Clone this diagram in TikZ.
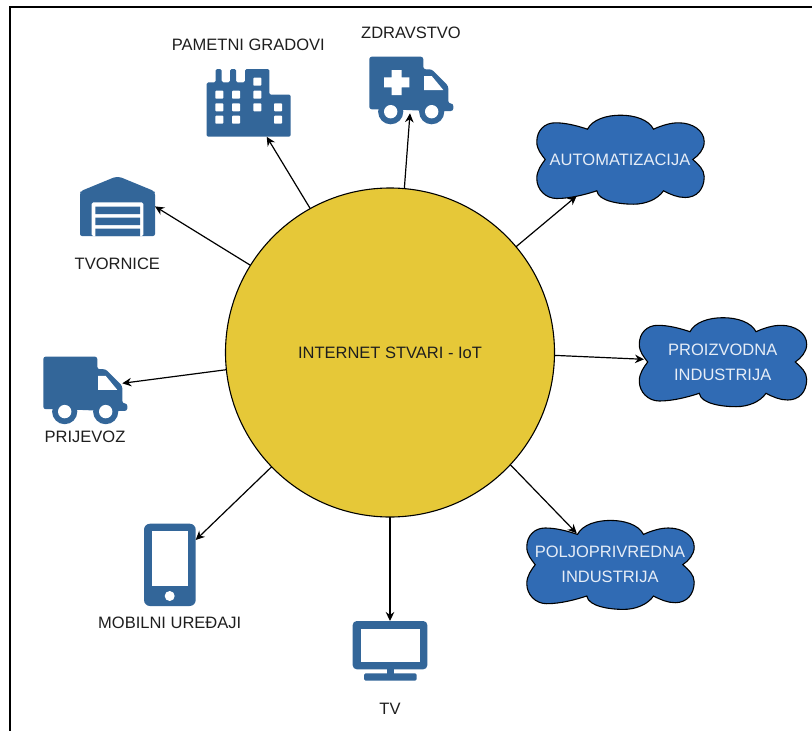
\documentclass[tikz,border=0pt]{standalone}
\usepackage{fontspec}
\setmainfont{Liberation Sans}
\usetikzlibrary{arrows.meta}
\definecolor{iconblue}{HTML}{336699}
\definecolor{cloudblue}{HTML}{306BB4}
\definecolor{hubyellow}{HTML}{E6C838}
\definecolor{cloudtext}{HTML}{E6EDF7}
\definecolor{labelink}{HTML}{1E1E1E}
\tikzset{
  label text/.style={font=\fontsize{16.5}{18}\selectfont,text=labelink,inner sep=0pt,align=center},
  cloud text/.style={font=\fontsize{16.5}{25}\selectfont,text=cloudtext,inner sep=0pt,align=center},
  link/.style={draw=black,line width=1.2pt,-{Stealth[length=9pt,width=8.5pt]}},
  icon/.style={fill=iconblue,draw=none},
  hole/.style={fill=white,draw=none},
  frame node/.style={draw=none,fill=none,inner sep=0pt,outer sep=0pt,rectangle},
  blob/.pic={
    \path[fill=cloudblue,draw=black,line width=1.1pt]
      (-33,-30.3) .. controls (-28,-40) and (-14,-44.3) .. (0,-44.3)
      .. controls (14,-44.3) and (28,-40) .. (33,-30.3)
      .. controls (41,-34) and (50,-36.7) .. (58,-36.7)
      .. controls (72,-36.7) and (83.7,-29) .. (83.7,-17.7)
      .. controls (83.7,-10) and (78,-4) .. (72.3,0)
      .. controls (78,5) and (83.7,10) .. (83.7,17.3)
      .. controls (83.7,30) and (76,38) .. (64.7,38)
      .. controls (57,38) and (50,35) .. (43,31.3)
      .. controls (37,40) and (25,44.7) .. (13,44.7)
      .. controls (0,44.7) and (-22,42) .. (-23.7,31.3)
      .. controls (-35,35) and (-50,39) .. (-63.7,39)
      .. controls (-75,39) and (-83.7,30) .. (-83.7,19)
      .. controls (-83.7,11) and (-79,5) .. (-75.3,0)
      .. controls (-79,-5) and (-83.7,-10) .. (-83.7,-17.7)
      .. controls (-83.7,-29) and (-76,-36.7) .. (-65.3,-36.7)
      .. controls (-55,-36.7) and (-44,-34) .. (-33,-30.3) -- cycle;
  },
  van/.pic={
    \path[icon,rounded corners=2.5pt]
      (369.3,56.7) -- (423.3,56.7) -- (423.3,69.3) -- (431.7,69.3) -- (448.3,86)
      -- (448.3,103.5) -- (453.3,103.5) -- (453.3,111) -- (430,111) -- (390,109.3) -- (369.3,109.3) -- cycle;
    \path[icon] (390.7,111.7) circle (12.6) (431.7,111.7) circle (12.6);
    \path[hole] (390.7,111.7) circle (6.7) (431.7,111.7) circle (6.7);
    \path[hole] (424,76) -- (431.7,76) -- (443.3,90) -- (424,90) -- cycle;
  }
}
\begin{document}
\begin{tikzpicture}[x=1pt,y=-1pt]
\useasboundingbox (0,0) rectangle (812,731);
\fill[white] (0,0) rectangle (812,731);
\draw[line width=2pt,black] (10,731) -- (10,7) -- (812,7);

% hub
\node[circle,draw=black,line width=1.1pt,fill=hubyellow,minimum size=329pt,inner sep=0pt,outer sep=0pt] (iot) at (390,352.5) {};
\node[label text] (iottext) at (390,352.5) {INTERNET STVARI - IoT};

% clouds
\pic at (620.5,159.5) {blob};
\pic at (723,362) {blob};
\pic at (610.5,564.7) {blob};
\node[cloud text] (auto) at (620,160) {AUTOMATIZACIJA};
\node[cloud text] (proiz) at (722.7,362.5) {PROIZVODNA\\INDUSTRIJA};
\node[cloud text] (poljo) at (610,564.8) {POLJOPRIVREDNA\\INDUSTRIJA};
\coordinate (autoin) at (576.7,196);
\coordinate (proizin) at (644,359.3);
\coordinate (poljoin) at (576.7,533.3);

% factory icon
\path[icon,rounded corners=2pt] (80,236) -- (80,193) -- (81,191) -- (115,177) -- (120,177) -- (154,191) -- (155,193) -- (155,236) -- cycle;
\path[hole,rounded corners=1.5pt] (91.7,236) -- (91.7,202.3) -- (143.3,202.3) -- (143.3,236) -- cycle;
\path[icon] (95.3,206.7) rectangle (140,214) (95.3,217.7) rectangle (140,225) (95.3,228.7) rectangle (140,236);
\node[frame node,minimum width=75pt,minimum height=59.3pt] (tvornice) at (117.5,206.4) {};
\node[label text] (tvornicetext) at (117.3,264) {TVORNICE};

% city icon
\path[icon,rounded corners=1.5pt] (206.7,136.7) -- (206.7,82.3) -- (215.7,82.3) -- (215.7,69) -- (221.7,69) -- (221.7,82.3) -- (230,82.3) -- (230,69) -- (236,69) -- (236,82.3) -- (245,82.3) -- (245,69) -- (269.3,69) -- (269.3,94.7) -- (290.7,94.7) -- (290.7,136.7) -- cycle;
\foreach \wx/\wy in {215.3/90.7,215.3/103.3,215.3/115.7,232/90.7,232/103.3,232/115.7,253.3/77.7,253.3/90.7,253.3/103.3,274/103.3,274/115.7}
  \path[hole,rounded corners=.8pt] (\wx,\wy) rectangle ++(8,8);
\node[frame node,minimum width=84pt,minimum height=67.7pt] (gradovi) at (248.7,102.9) {};
\node[label text] (gradovitext) at (248.3,45) {PAMETNI GRADOVI};

% ambulance icon
\pic {van};
\path[hole] (391.7,70) rectangle (401.7,95) (384,77.3) rectangle (409.4,87.3);
\coordinate (zdravin) at (410,113.3);
\node[label text] (zdravtext) at (411,33) {ZDRAVSTVO};

% truck icon
\begin{scope}[shift={(-326,299.9)},yscale=.972]
\pic {van};
\end{scope}
\coordinate (prijin) at (122.3,383.3);
\node[label text] (prijtext) at (85,437.3) {PRIJEVOZ};

% phone icon
\path[icon,rounded corners=6pt] (144,523.7) rectangle (195.7,606);
\path[hole] (151.7,531) rectangle (187.7,585.7);
\path[hole] (169.7,596) circle (5);
\coordinate (mobilniin) at (195.7,540);
\node[label text] (mobilnitext) at (169.7,622.7) {MOBILNI UREĐAJI};

% tv icon
\path[icon,rounded corners=4pt] (352.7,621) rectangle (427.3,669.3);
\path[hole] (360.7,628.7) rectangle (420,662);
\path[icon] (386.7,669) rectangle (394,674);
\path[icon,rounded corners=1.5pt] (364,673.3) rectangle (416.7,680.7);
\node[frame node,minimum width=74.6pt,minimum height=59.7pt] (tv) at (390,650.85) {};
\node[label text] (tvtext) at (390,709) {TV};

% connectors
\draw[link] (iot.148.2) -- (tvornice.east);
\draw[link] (iot.119.5) -- (gradovi.-62);
\draw[link] (iot.85.4) -- (zdravin);
\draw[link] (iot.40) -- (autoin);
\draw[link] (iot.-1.5) -- (proizin);
\draw[link] (iot.-43.4) -- (poljoin);
\draw[link] (iot.south) -- (tv.north);
\draw[link] (iot.224) -- (mobilniin);
\draw[link] (iot.186.7) -- (prijin);
\end{tikzpicture}
\end{document}
